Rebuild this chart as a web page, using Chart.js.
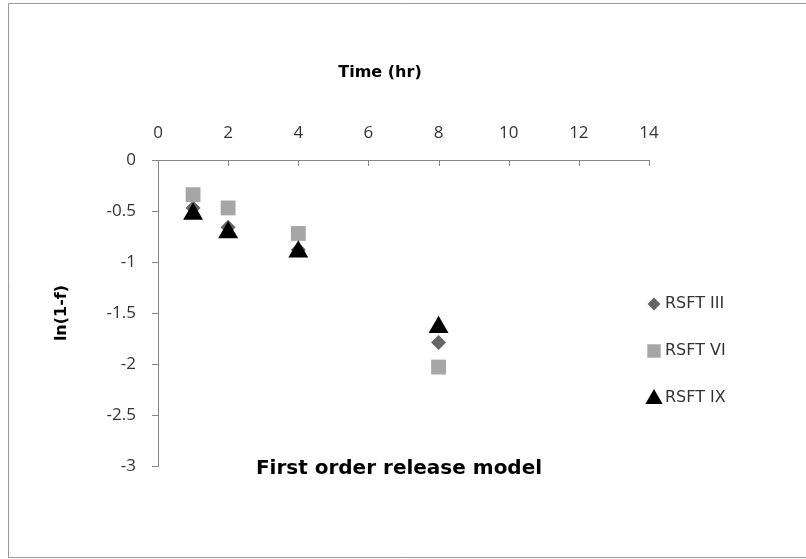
<!DOCTYPE html>
<html><head><meta charset="utf-8">
<script src="https://cdn.jsdelivr.net/npm/chart.js@4/dist/chart.umd.min.js"></script>
<style>html,body{margin:0;padding:0;background:#fff;} #wrap{width:806px;height:559px;position:relative;}</style>
</head><body><div id="wrap"><canvas id="c" width="806" height="559"></canvas></div>
<script>
const timeHr = [1, 2, 4, 8];
const rsftIII = [-0.47, -0.66, -0.88, -1.79];
const rsftVI = [-0.34, -0.47, -0.72, -2.03];
const rsftIX = [-0.53, -0.71, -0.90, -1.64];
const seriesNames = ['RSFT III', 'RSFT VI', 'RSFT IX'];
const xTitle = 'Time (hr)';
const yTitle = 'ln(1-f)';
const chartTitle = 'First order release model';

const FONT = "'DejaVu Sans', sans-serif";
const TICKFONT = "'Open Sans', sans-serif";
const toPts = (ys) => timeHr.map((x, i) => ({x: x, y: ys[i]}));

const styles = [
  {pointStyle: 'rectRot', radius: 7.5, color: '#666666'},
  {pointStyle: 'rect', radius: 10.5, color: '#a6a6a6'},
  {pointStyle: 'triangle', radius: 11.5, color: '#000000'}
];
const seriesVals = [rsftIII, rsftVI, rsftIX];
const orders = [2, 1, 0];

const datasets = seriesNames.map((name, i) => ({
  label: name,
  data: toPts(seriesVals[i]),
  pointStyle: styles[i].pointStyle,
  pointRadius: styles[i].radius,
  pointHoverRadius: styles[i].radius,
  backgroundColor: styles[i].color,
  borderColor: styles[i].color,
  borderWidth: 0,
  showLine: false,
  order: orders[i]
}));

const extras = {
  id: 'extras',
  beforeDraw(chart) {
    const ctx = chart.ctx;
    ctx.save();
    ctx.fillStyle = '#ffffff';
    ctx.fillRect(0, 0, chart.width, chart.height);
    ctx.strokeStyle = '#9a9a9a';
    ctx.lineWidth = 1;
    ctx.beginPath();
    ctx.moveTo(8.5, 558);
    ctx.lineTo(8.5, 3.5);
    ctx.lineTo(806, 3.5);
    ctx.moveTo(8.5, 557.5);
    ctx.lineTo(806, 557.5);
    ctx.stroke();
    ctx.restore();
  },
  afterDraw(chart) {
    const ctx = chart.ctx;
    const xs = chart.scales.x;
    const area = chart.chartArea;
    ctx.save();
    // inward x ticks
    ctx.strokeStyle = '#868686';
    ctx.lineWidth = 1;
    ctx.beginPath();
    xs.ticks.forEach(t => {
      const px = Math.round(xs.getPixelForValue(t.value)) + 0.5;
      ctx.moveTo(px, area.top);
      ctx.lineTo(px, area.top + 6);
    });
    ctx.stroke();
    // x axis title
    ctx.fillStyle = '#000000';
    ctx.font = "bold 16px " + FONT;
    ctx.textAlign = 'center';
    ctx.textBaseline = 'middle';
    ctx.fillText(xTitle, 380, 73);
    // chart title
    ctx.font = "bold 20px " + FONT;
    ctx.fillText(chartTitle, 399, 469);
    // legend
    ctx.font = "16px " + FONT;
    ctx.textAlign = 'left';
    const rowsY = [304, 351, 398];
    const legR = [6.5, 9.5, 10];
    seriesNames.forEach((name, i) => {
      const opts = {pointStyle: styles[i].pointStyle, radius: legR[i], rotation: 0, borderWidth: 0};
      ctx.fillStyle = styles[i].color;
      ctx.strokeStyle = styles[i].color;
      Chart.helpers.drawPoint(ctx, opts, 654, rowsY[i] + (i === 2 ? 1 : 0));
      ctx.fillStyle = '#333333';
      ctx.fillText(name, 665, rowsY[i]);
    });
    ctx.restore();
  }
};

new Chart(document.getElementById('c'), {
  type: 'scatter',
  data: {datasets: datasets},
  options: {
    responsive: false,
    animation: false,
    layout: {padding: {left: 0, top: 0, right: 157, bottom: 93}},
    plugins: {legend: {display: false}, tooltip: {enabled: false}, title: {display: false}},
    scales: {
      x: {
        type: 'linear', position: 'top', min: 0, max: 14,
        ticks: {stepSize: 2, color: '#333333', font: {family: TICKFONT, size: 17}, padding: 17, maxRotation: 0},
        grid: {display: true, drawOnChartArea: false, drawTicks: false},
        border: {display: true, color: '#868686', width: 1},
        afterFit: (s) => { s.height = 160; }
      },
      y: {
        type: 'linear', position: 'left', min: -3, max: 0,
        ticks: {stepSize: 0.5, color: '#333333', font: {family: TICKFONT, size: 17}, padding: 16,
          callback: (v) => String(Math.round(v * 10) / 10)},
        grid: {display: true, drawOnChartArea: false, drawTicks: true, tickLength: 6, color: '#868686'},
        border: {display: true, color: '#868686', width: 1},
        title: {display: true, text: yTitle, color: '#000000', font: {family: FONT, size: 16, weight: 'bold'}, padding: {top: 52, bottom: 0}},
        afterFit: (s) => { s.width = 158; }
      }
    }
  },
  plugins: [extras]
});
</script>
</body></html>
